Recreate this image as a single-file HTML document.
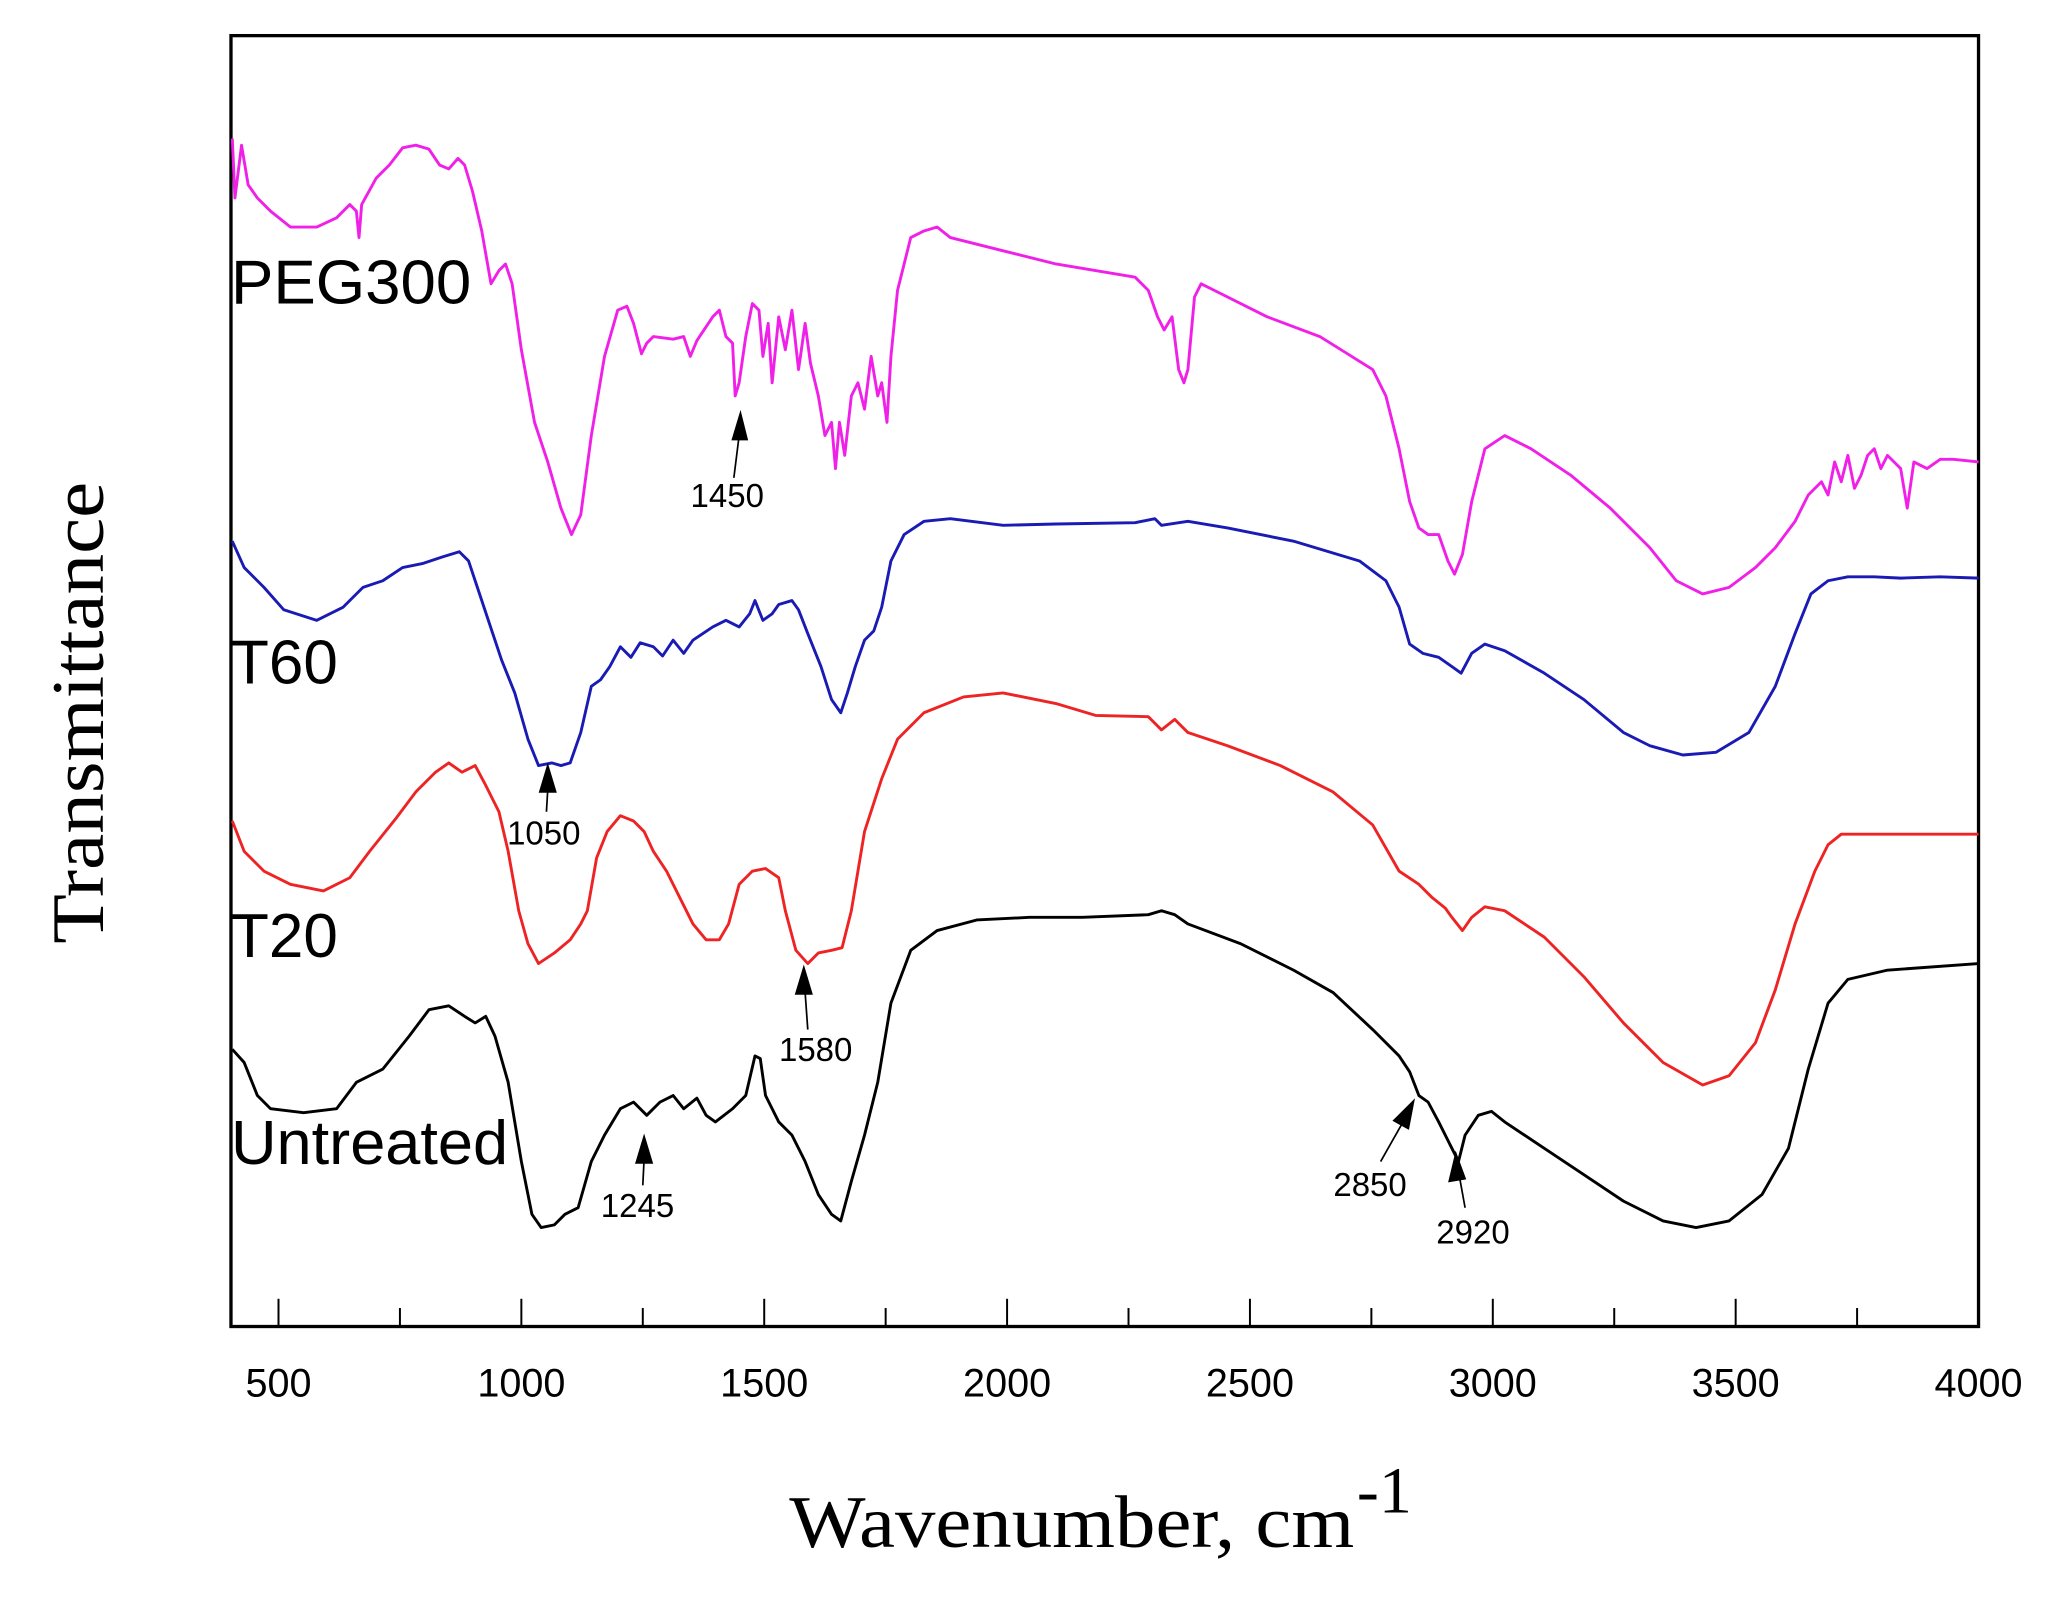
<!DOCTYPE html>
<html><head><meta charset="utf-8"><style>
html,body{margin:0;padding:0;background:#fff;}
svg{display:block;}
.t{font-family:"Liberation Sans",Arial,sans-serif;fill:#000;}
.s{font-family:"Liberation Serif","Times New Roman",serif;fill:#000;}
polyline{fill:none;stroke-width:2.2;stroke-linejoin:round;}
</style></head><body>
<svg width="2063" height="1600" viewBox="0 0 1563 1212.2" preserveAspectRatio="none" xmlns="http://www.w3.org/2000/svg">
<rect x="0" y="0" width="1563" height="1212.2" fill="#fff"/>
<rect x="175" y="27" width="1324" height="978" fill="none" stroke="#000" stroke-width="2.5"/>
<g stroke="#000" stroke-width="1.5">
<line x1="211" y1="1005" x2="211" y2="984"/>
<line x1="303" y1="1005" x2="303" y2="991"/>
<line x1="395" y1="1005" x2="395" y2="984"/><line x1="487" y1="1005" x2="487" y2="991"/>
<line x1="579" y1="1005" x2="579" y2="984"/><line x1="671" y1="1005" x2="671" y2="991"/>
<line x1="763" y1="1005" x2="763" y2="984"/><line x1="855" y1="1005" x2="855" y2="991"/>
<line x1="947" y1="1005" x2="947" y2="984"/><line x1="1039" y1="1005" x2="1039" y2="991"/>
<line x1="1131" y1="1005" x2="1131" y2="984"/><line x1="1223" y1="1005" x2="1223" y2="991"/>
<line x1="1315" y1="1005" x2="1315" y2="984"/><line x1="1407" y1="1005" x2="1407" y2="991"/>
</g>
<g class="t" font-size="30" text-anchor="middle">
<text x="211" y="1058">500</text><text x="395" y="1058">1000</text><text x="579" y="1058">1500</text>
<text x="763" y="1058">2000</text><text x="947" y="1058">2500</text><text x="1131" y="1058">3000</text>
<text x="1315" y="1058">3500</text><text x="1499" y="1058">4000</text>
</g>
<text class="s" x="598" y="1172" font-size="56" textLength="428" lengthAdjust="spacingAndGlyphs">Wavenumber, cm</text>
<text class="s" x="1028" y="1146" font-size="50">-1</text>
<text class="s" font-size="56" text-anchor="middle" textLength="350" lengthAdjust="spacingAndGlyphs" transform="translate(78,540) rotate(-90)">Transmittance</text>

<polyline stroke="#f020e8" points="176,105 178,150 183,110 188,140 195,150 205,160 220,172 240,172 255,165 265,155 270,160 272,180 274,155 285,135 295,125 305,112 315,110 325,113 333,125 340,128 347,120 352,125 358,145 365,175 372,215 378,205 383,200 388,215 395,265 405,320 415,350 425,385 433,405 440,390 448,330 458,270 468,235 475,232 480,245 486,268 490,260 495,255 510,257 518,255 523,270 528,258 540,240 545,235 550,255 555,260 557,300 560,290 565,255 570,230 575,235 578,270 582,245 585,290 590,240 595,265 600,235 605,280 610,245 614,275 620,300 625,330 630,320 633,355 636,320 640,345 645,300 650,290 655,310 660,270 665,300 668,290 672,320 675,270 680,220 685,200 690,180 700,175 710,172 720,180 740,185 760,190 800,200 830,205 860,210 870,220 877,240 882,250 888,240 893,280 897,290 900,280 905,225 910,215 920,220 960,240 1000,255 1040,280 1050,300 1060,340 1068,380 1075,400 1082,405 1090,405 1097,425 1102,435 1108,420 1115,380 1125,340 1140,330 1160,340 1190,360 1220,385 1250,415 1270,440 1290,450 1310,445 1330,430 1345,415 1360,395 1370,375 1380,365 1385,375 1390,350 1395,365 1400,345 1405,370 1410,360 1415,345 1420,340 1425,355 1430,345 1440,355 1445,385 1450,350 1460,355 1470,348 1480,348 1499,350"/>

<polyline stroke="#1a1ab4" points="176,410 185,430 200,445 215,462 240,470 260,460 275,445 290,440 305,430 320,427 335,422 348,418 355,425 360,440 370,470 380,500 390,525 400,560 408,580 418,578 425,580 432,578 440,555 448,520 455,515 462,505 470,490 478,498 485,487 495,490 502,497 510,485 518,495 525,485 540,475 550,470 560,475 568,465 572,455 578,470 585,465 590,458 600,455 605,462 612,480 622,505 630,530 637,540 642,525 648,505 655,485 662,478 668,460 675,425 685,405 700,395 720,393 760,398 800,397 860,396 875,393 880,398 900,395 930,400 980,410 1030,425 1050,440 1060,460 1068,488 1078,495 1090,498 1100,505 1107,510 1115,495 1125,488 1140,493 1170,510 1200,530 1230,555 1250,565 1275,572 1300,570 1325,555 1345,520 1360,480 1372,450 1385,440 1400,437 1420,437 1440,438 1470,437 1499,438"/>

<polyline stroke="#ee2424" points="176,622 185,645 200,660 220,670 245,675 265,665 280,645 300,620 315,600 330,585 340,578 350,585 360,580 368,595 378,615 385,645 393,690 400,715 408,730 420,722 432,712 440,700 445,690 452,650 460,630 470,618 480,622 488,630 495,645 505,660 515,680 525,700 535,712 545,712 552,700 560,670 570,660 580,658 590,665 595,690 603,720 612,730 620,722 630,720 638,718 645,690 655,630 668,590 680,560 700,540 730,528 760,525 800,533 830,542 870,543 880,553 890,545 900,555 930,565 970,580 1010,600 1040,625 1060,660 1075,670 1085,680 1095,688 1100,695 1108,705 1115,695 1125,687 1140,690 1170,710 1200,740 1230,775 1260,805 1290,822 1310,815 1330,790 1345,750 1360,700 1375,660 1385,640 1395,632 1420,632 1499,632"/>

<polyline stroke="#000" points="176,795 185,805 195,830 205,840 230,843 255,840 270,820 290,810 310,785 325,765 340,762 352,770 360,775 368,770 375,785 385,820 395,880 403,920 410,930 420,928 428,920 438,915 448,880 458,860 470,840 480,835 490,845 500,835 510,830 518,840 528,832 535,845 542,850 555,840 565,830 572,800 576,802 580,830 590,850 600,860 610,880 620,905 630,920 637,925 645,895 655,860 665,820 675,760 690,720 710,705 740,697 780,695 820,695 870,693 880,690 890,693 900,700 940,715 980,735 1010,752 1040,780 1060,800 1068,812 1075,830 1082,835 1090,850 1095,860 1100,870 1105,880 1110,860 1120,845 1130,842 1140,850 1170,870 1200,890 1230,910 1260,925 1285,930 1310,925 1335,905 1355,870 1370,810 1385,760 1400,742 1430,735 1499,730"/>

<g class="t" font-size="47">
<text x="175" y="230" textLength="182" lengthAdjust="spacingAndGlyphs">PEG300</text>
<text x="175" y="518">T60</text>
<text x="175" y="725">T20</text>
<text x="175" y="882" textLength="210" lengthAdjust="spacingAndGlyphs">Untreated</text>
</g>
<g class="t" font-size="25" text-anchor="middle">
<text x="551" y="384">1450</text>
<text x="412" y="640">1050</text>
<text x="618" y="804">1580</text>
<text x="483" y="922">1245</text>
<text x="1038" y="906">2850</text>
<text x="1116" y="942">2920</text>
</g>
<g stroke="#000" stroke-width="1.3" fill="#000">
<line x1="556" y1="362" x2="560" y2="330"/><polygon points="561,313 555,333 566,333"/>
<line x1="414" y1="615" x2="415" y2="598"/><polygon points="415,580 409,600 421,600"/>
<line x1="612" y1="780" x2="610" y2="752"/><polygon points="609,733 603,753 615,753"/>
<line x1="487" y1="898" x2="488" y2="878"/><polygon points="488,861 482,881 494,881"/>
<line x1="1046" y1="880" x2="1063" y2="850"/><polygon points="1071,834 1056,849 1067,855"/>
<line x1="1110" y1="915" x2="1106" y2="893"/><polygon points="1103,874 1098,895 1110,893"/>
</g>
</svg>
</body></html>
